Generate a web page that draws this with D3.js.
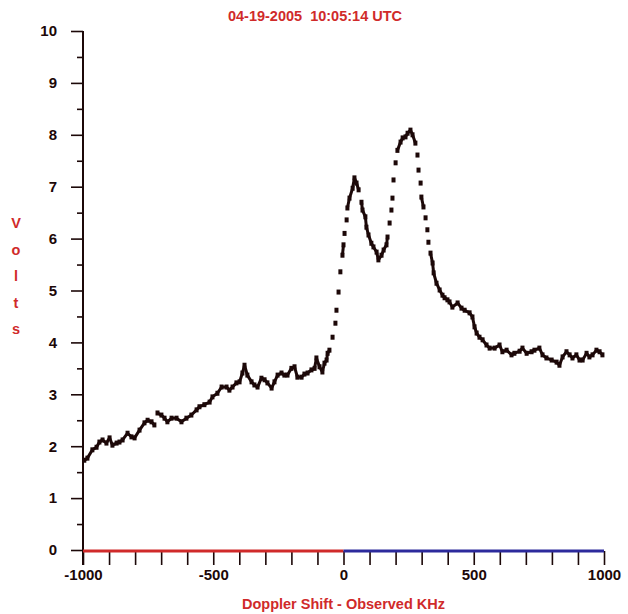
<!DOCTYPE html>
<html>
<head>
<meta charset="utf-8">
<script src="https://cdn.jsdelivr.net/npm/d3@7"></script>
<style>
  body { margin: 0; background: #fff; }
  svg { display: block; font-family: "Liberation Sans", Arial, sans-serif; font-weight: bold; }
</style>
</head>
<body>
<svg id="chart" width="628" height="614"></svg>
<script>
const titleText = "04-19-2005  10:05:14 UTC";
const xLabel = "Doppler Shift - Observed KHz";
const yLabel = ["V", "o", "l", "t", "s"];

const xTicks = [-1000, -500, 0, 500, 1000];
const yTicks = [0, 1, 2, 3, 4, 5, 6, 7, 8, 9, 10];

// observed shift (kHz) and received level (volts)
const freq = [
  -995, -983, -964, -948, -937, -925, -910, -898, -887, -871,
  -860, -848, -829, -814, -802, -783, -764, -752, -737, -726,
  -714, -699, -687, -676, -660, -641, -622, -603, -584, -564,
  -553, -534, -514, -503, -484, -468, -449, -438, -426, -411,
  -399, -388, -380, -369, -353, -342, -330, -315, -303, -292,
  -276, -265, -253, -238, -227, -215, -200, -188, -177, -161,
  -150, -138, -123, -111, -104, -92, -81, -73, -65, -61,
  -54, -42, -31, -27, -19, -12, -4, 0, 4, 12,
  15, 23, 35, 42, 50, 58, 69, 73, 84, 88,
  96, 107, 115, 127, 134, 146, 154, 165, 169, 177,
  184, 188, 192, 200, 207, 219, 227, 238, 246, 257,
  265, 276, 284, 288, 296, 299, 307, 315, 322, 326,
  334, 342, 346, 357, 369, 380, 388, 399, 407, 418,
  438, 453, 465, 484, 495, 503, 511, 522, 534, 549,
  561, 580, 599, 610, 626, 645, 656, 676, 687, 703,
  722, 733, 752, 764, 779, 799, 818, 829, 841, 856,
  868, 879, 894, 906, 918, 933, 944, 956, 971, 983,
  994
];
const volts = [
  1.73, 1.77, 1.93, 1.98, 2.08, 2.12, 2.06, 2.16, 2.02, 2.06,
  2.08, 2.12, 2.25, 2.18, 2.16, 2.31, 2.45, 2.50, 2.47, 2.41,
  2.64, 2.60, 2.54, 2.47, 2.54, 2.54, 2.47, 2.54, 2.60, 2.70,
  2.76, 2.80, 2.85, 2.95, 3.02, 3.14, 3.14, 3.08, 3.14, 3.22,
  3.24, 3.41, 3.56, 3.37, 3.24, 3.18, 3.14, 3.31, 3.28, 3.22,
  3.12, 3.24, 3.37, 3.41, 3.37, 3.37, 3.50, 3.53, 3.33, 3.33,
  3.39, 3.41, 3.47, 3.50, 3.70, 3.53, 3.43, 3.60, 3.66, 3.79,
  3.85, 4.10, 4.37, 4.62, 4.97, 5.36, 5.68, 5.88, 6.10, 6.36,
  6.59, 6.78, 6.97, 7.17, 7.07, 6.94, 6.70, 6.55, 6.42, 6.22,
  6.07, 5.91, 5.84, 5.74, 5.59, 5.68, 5.78, 5.88, 6.03, 6.30,
  6.55, 6.78, 7.13, 7.46, 7.70, 7.86, 7.94, 7.96, 8.03, 8.09,
  8.00, 7.84, 7.61, 7.32, 7.07, 6.80, 6.61, 6.40, 6.17, 5.93,
  5.72, 5.53, 5.34, 5.14, 5.01, 4.91, 4.86, 4.82, 4.78, 4.68,
  4.76, 4.66, 4.62, 4.57, 4.49, 4.30, 4.18, 4.10, 4.05, 3.95,
  3.89, 3.89, 3.95, 3.82, 3.85, 3.76, 3.79, 3.83, 3.89, 3.79,
  3.82, 3.85, 3.89, 3.76, 3.70, 3.66, 3.62, 3.56, 3.72, 3.82,
  3.76, 3.70, 3.76, 3.66, 3.66, 3.79, 3.72, 3.76, 3.85, 3.82,
  3.76
];

const red = "#d02a2a";
const blue = "#2c2a9c";
const ink = "#1c0808";

const svg = d3.select("#chart");

let x = d3.scaleLinear().domain([-1000, 1000]).range([83, 604]);
let y = d3.scaleLinear().domain([0, 10]).range([550, 31]);

// title
svg.append("text")
    .attr("x", 315).attr("y", 21)
    .attr("text-anchor", "middle")
    .attr("fill", red)
    .attr("font-size", 14.5)
    .style("white-space", "pre")
    .text(titleText);

// y axis: major ticks every volt, minor every half
let yAxis = svg.append("g").attr("transform", `translate(${x(-1000)},0)`);
yAxis.call(d3.axisLeft(y).tickValues(d3.range(0.5, 10, 1)).tickSize(6).tickFormat(""));
yAxis.call(g => g.append("g").call(d3.axisLeft(y).tickValues(yTicks).tickSize(12).tickPadding(14).tickFormat(d3.format("d"))));
yAxis.selectAll(".domain").remove();
yAxis.selectAll("line").attr("stroke", ink).attr("stroke-width", 1.6);
yAxis.selectAll("text")
    .attr("fill", ink)
    .attr("font-size", 15)
    .attr("font-family", "Liberation Sans, Arial, sans-serif")
    .attr("font-weight", "bold");

svg.append("line")
    .attr("x1", x(-1000)).attr("x2", x(-1000))
    .attr("y1", y(10)).attr("y2", y(0) + 15)
    .attr("stroke", ink).attr("stroke-width", 2);

// x axis: ticks every 100 kHz
let xAxis = svg.append("g").attr("transform", `translate(0,${y(0) + 1})`);
xAxis.call(d3.axisBottom(x).tickValues(d3.range(-1000, 1001, 100)).tickSize(14).tickPadding(4)
    .tickFormat(d => xTicks.includes(d) ? d : ""));
xAxis.selectAll(".domain").remove();
xAxis.selectAll("line").attr("stroke", ink).attr("stroke-width", 1.6);
xAxis.selectAll("text")
    .attr("fill", ink)
    .attr("font-size", 15)
    .attr("font-family", "Liberation Sans, Arial, sans-serif")
    .attr("font-weight", "bold");

// baseline, red for negative shift, blue for positive
svg.append("line")
    .attr("x1", x(-1000)).attr("x2", x(0))
    .attr("y1", y(0) + 1).attr("y2", y(0) + 1)
    .attr("stroke", red).attr("stroke-width", 3);
svg.append("line")
    .attr("x1", x(0)).attr("x2", x(1000))
    .attr("y1", y(0) + 1).attr("y2", y(0) + 1)
    .attr("stroke", blue).attr("stroke-width", 3);

// axis titles
svg.append("text")
    .attr("x", x(0)).attr("y", 609)
    .attr("text-anchor", "middle")
    .attr("fill", red)
    .attr("font-size", 14.5)
    .text(xLabel);

svg.append("g").selectAll("text")
    .data(yLabel)
    .join("text")
    .attr("x", 16)
    .attr("y", (d, i) => 228 + i * 26.5)
    .attr("text-anchor", "middle")
    .attr("fill", red)
    .attr("font-size", 14.5)
    .text(d => d);

// trace: join neighbouring samples when close, plot each sample as a dot
let pts = freq.map((f, i) => ({f: f, v: volts[i]}));
let segs = d3.pairs(pts).filter(([a, b]) => Math.abs(y(a.v) - y(b.v)) < 10.5);

svg.append("g").selectAll("line")
    .data(segs)
    .join("line")
    .attr("x1", d => x(d[0].f)).attr("y1", d => y(d[0].v))
    .attr("x2", d => x(d[1].f)).attr("y2", d => y(d[1].v))
    .attr("stroke", ink).attr("stroke-width", 3);

svg.append("g").selectAll("rect")
    .data(pts)
    .join("rect")
    .attr("x", d => x(d.f) - 2)
    .attr("y", d => y(d.v) - 2.5)
    .attr("width", 4)
    .attr("height", 5)
    .attr("fill", ink);
</script>
</body>
</html>
